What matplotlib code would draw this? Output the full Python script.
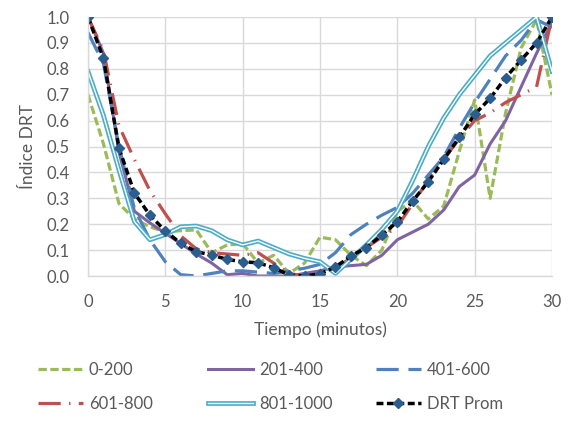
# ==========================================
# IMPORTAR LIBRERÍAS
# ==========================================

import matplotlib
matplotlib.use("Agg")

import matplotlib.pyplot as plt
import matplotlib.patheffects as pe


# ==========================================
# DATOS
# ==========================================

tiempo = list(range(0, 31))

serie_0_200 = [0.70, 0.51, 0.28, 0.22, 0.19, 0.17, 0.175, 0.178, 0.09, 0.12,
               0.125, 0.05, 0.08, 0.01, 0.05, 0.15, 0.14, 0.08, 0.04, 0.10,
               0.25, 0.29, 0.22, 0.27, 0.48, 0.68, 0.30, 0.63, 0.88, 0.99, 0.70]

serie_201_400 = [1.0, 0.86, 0.48, 0.25, 0.205, 0.165, 0.125, 0.085, 0.05, 0.005,
                 0.01, 0.0, 0.0, 0.0, 0.01, 0.02, 0.035, 0.04, 0.045, 0.08,
                 0.14, 0.17, 0.20, 0.255, 0.345, 0.39, 0.51, 0.60, 0.73, 0.86, 0.98]

serie_401_600 = [0.94, 0.82, 0.50, 0.26, 0.14, 0.055, 0.005, 0.0, 0.01, 0.02,
                 0.02, 0.015, 0.01, 0.02, 0.03, 0.045, 0.09, 0.16, 0.20, 0.235,
                 0.265, 0.32, 0.39, 0.46, 0.57, 0.67, 0.76, 0.85, 0.91, 0.99, 0.96]

serie_601_800 = [1.0, 0.87, 0.58, 0.45, 0.33, 0.24, 0.155, 0.105, 0.09, 0.085,
                 0.08, 0.09, 0.05, 0.01, 0.0, 0.01, 0.03, 0.07, 0.11, 0.15,
                 0.19, 0.28, 0.37, 0.45, 0.53, 0.60, 0.63, 0.67, 0.70, 0.73, 1.0]

serie_801_1000 = [0.79, 0.62, 0.41, 0.21, 0.14, 0.16, 0.19, 0.193, 0.175, 0.14,
                  0.12, 0.135, 0.11, 0.085, 0.068, 0.055, 0.01, 0.065, 0.12, 0.18,
                  0.25, 0.37, 0.50, 0.61, 0.70, 0.775, 0.85, 0.90, 0.95, 1.0, 0.79]

drt_prom = [1.0, 0.84, 0.495, 0.32, 0.235, 0.174, 0.126, 0.094, 0.081, 0.064,
            0.055, 0.051, 0.032, 0.004, 0.0, 0.008, 0.035, 0.077, 0.11, 0.158,
            0.21, 0.29, 0.364, 0.45, 0.535, 0.624, 0.686, 0.766, 0.834, 0.90, 1.0]

etiquetas = ["0-200", "201-400", "401-600", "601-800", "801-1000", "DRT Prom"]

x_ticks = [0, 5, 10, 15, 20, 25, 30]
y_ticks = [0.0, 0.1, 0.2, 0.3, 0.4, 0.5, 0.6, 0.7, 0.8, 0.9, 1.0]


# ==========================================
# CONFIGURAR FIGURA
# ==========================================

plt.rcParams["font.family"] = ["Lato", "DejaVu Sans"]
plt.rcParams["lines.scale_dashes"] = False

gris = "#595959"

fig = plt.figure(
    figsize=(5.74, 4.23),
    dpi=100
)

ax = fig.add_axes([0.1533, 0.3475, 0.8084, 0.6123])


# ==========================================
# GRÁFICAS
# ==========================================

h1, = ax.plot(tiempo, serie_0_200, color="#9BBB59", lw=2.3,
              dashes=(6, 2.5), label=etiquetas[0])

h2, = ax.plot(tiempo, serie_201_400, color="#8064A2", lw=2.2,
              label=etiquetas[1])

h3, = ax.plot(tiempo, serie_401_600, color="#4F81BD", lw=2.3,
              dashes=(16, 7), label=etiquetas[2])

h4, = ax.plot(tiempo, serie_601_800, color="#C0504D", lw=2.3,
              dashes=(16, 6, 1, 6), label=etiquetas[3])

h5, = ax.plot(tiempo, serie_801_1000, color="#4BACC6", lw=3.4,
              label=etiquetas[4],
              path_effects=[pe.Stroke(linewidth=3.4, foreground="#4BACC6"),
                            pe.Stroke(linewidth=1.0, foreground="white")])

h6, = ax.plot(tiempo, drt_prom, color="black", lw=2.5,
              dashes=(5, 2.5), marker="D", markersize=5,
              markerfacecolor="#2C5D8F", markeredgecolor="#2C5D8F",
              label=etiquetas[5])


# ==========================================
# EJES Y GRID
# ==========================================

ax.set_xlim(0, 30)
ax.set_ylim(0, 1.0)

ax.set_xticks(x_ticks)
ax.set_yticks(y_ticks)
ax.set_yticklabels([f"{v:.1f}" for v in y_ticks])

ax.tick_params(length=0, labelsize=12, colors=gris)
ax.tick_params(axis="x", pad=13)
ax.tick_params(axis="y", pad=13)

ax.grid(True, color="#D9D9D9", lw=1)
ax.set_axisbelow(True)

for lado in ["top", "right"]:
    ax.spines[lado].set_visible(False)

for lado in ["left", "bottom"]:
    ax.spines[lado].set_color("#D9D9D9")
    ax.spines[lado].set_linewidth(1)


# ==========================================
# TÍTULOS
# ==========================================

ax.set_xlabel("Tiempo (minutos)", fontsize=12.5, color=gris, labelpad=8)
ax.set_ylabel("Índice DRT", fontsize=12.5, color=gris, labelpad=8)


# ==========================================
# LEYENDA (tres columnas)
# ==========================================

columnas = [(h1, h4), (h2, h5), (h3, h6)]
x_col = [38 / 574, 208 / 574, 376 / 574]

for (ha, hb), xc in zip(columnas, x_col):
    fig.legend(
        handles=[ha, hb],
        loc="upper left",
        bbox_to_anchor=(xc, 1 - 362 / 423),
        frameon=False,
        fontsize=12,
        labelcolor=gris,
        handlelength=2.7,
        handletextpad=0.35,
        borderpad=0,
        borderaxespad=0,
        labelspacing=1.05,
        numpoints=1
    )


# ==========================================
# GUARDAR IMAGEN
# ==========================================

plt.savefig("out.png", dpi=100)
